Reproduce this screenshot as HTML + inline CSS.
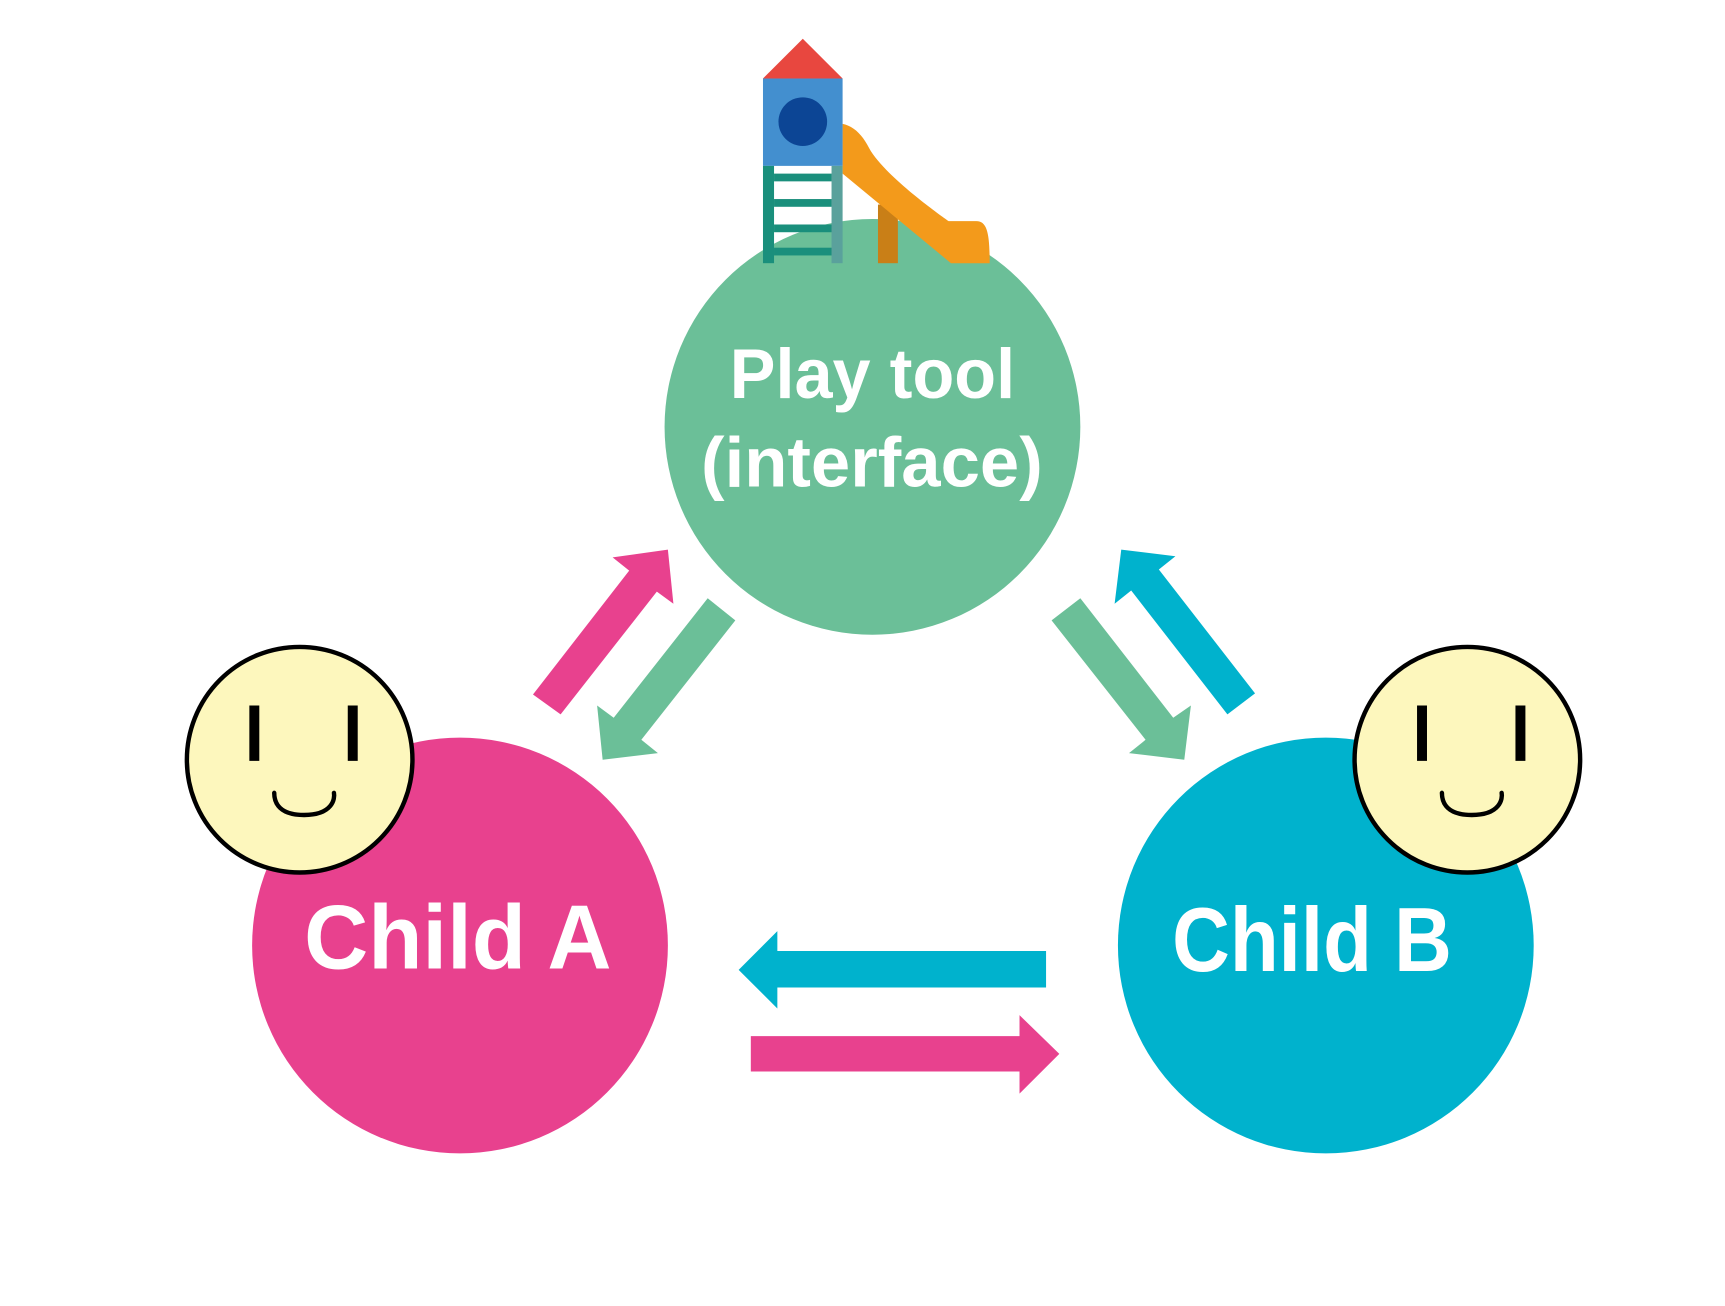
<!DOCTYPE html>
<html><head><style>html,body{margin:0;padding:0;background:#fff;}svg{display:block}</style></head>
<body>
<svg width="1725" height="1306" viewBox="0 0 1560 1181" preserveAspectRatio="none" xmlns="http://www.w3.org/2000/svg">
<rect width="1560" height="1181" fill="#fff"/>
<circle cx="789" cy="386" r="188" fill="#6bbf98"/>
<circle cx="416" cy="855" r="188" fill="#e8418e"/>
<circle cx="1199" cy="855" r="188" fill="#00b2cd"/>
<!-- playground -->
<rect x="794" y="185" width="18" height="53" fill="#c97f17"/>
<path d="M762,112 C772,114 780,122 786,134 C800,160 858,200 858,200 L883,200 C893,200 895,212 895,238 L860,238 L762,157 Z" fill="#f39a1b"/>
<polygon points="690,71 726,35 762,71" fill="#e8473f"/>
<rect x="690" y="71" width="72" height="79" fill="#438fcf"/>
<circle cx="726" cy="110" r="22" fill="#0c4595"/>
<rect x="690" y="150" width="10" height="88" fill="#1a8f7c"/>
<rect x="752" y="150" width="10" height="88" fill="#5aa19c"/>
<rect x="700" y="157" width="52" height="7" fill="#1a8f7c"/>
<rect x="700" y="180" width="52" height="7" fill="#1a8f7c"/>
<rect x="700" y="203" width="52" height="7" fill="#1a8f7c"/>
<rect x="700" y="224" width="52" height="7" fill="#1a8f7c"/>
<!-- text -->
<g font-family="Liberation Sans, sans-serif" font-weight="bold" fill="#fff">
<text x="660" y="360" font-size="64" textLength="258" lengthAdjust="spacingAndGlyphs">Play tool</text>
<text x="634" y="440" font-size="64" textLength="309" lengthAdjust="spacingAndGlyphs">(interface)</text>
<text x="275" y="876" font-size="82" textLength="278" lengthAdjust="spacingAndGlyphs">Child A</text>
<text x="1060" y="878" font-size="82" textLength="253" lengthAdjust="spacingAndGlyphs">Child B</text>
</g>
<!-- arrows -->
<polygon points="482,628 569,516 554,504 604,497 609,546 594,535 507,646" fill="#e8418e"/>
<polygon points="665,561 580,669 595,681 545,687 540,638 555,649 640,541" fill="#6bbf98"/>
<polygon points="1135,627 1048,515 1063,503 1014,497 1008,546 1023,534 1110,646" fill="#00b2cd"/>
<polygon points="951,561 1036,669 1021,681 1071,687 1077,638 1061,649 977,541" fill="#6bbf98"/>
<polygon points="946,860 703,860 703,842 668,877 703,912 703,893 946,893" fill="#00b2cd"/>
<polygon points="679,937 922,937 922,918 958,953 922,989 922,969 679,969" fill="#e8418e"/>
<!-- faces -->
<g stroke="#000">
<circle cx="271" cy="687" r="102" fill="#fdf7bd" stroke-width="4"/>
<line x1="230" y1="638" x2="230" y2="688" stroke-width="9"/>
<line x1="319" y1="638" x2="319" y2="688" stroke-width="9"/>
<path d="M248,717 C248,722 249,737 275,737 C301,737 303,722 302,717" fill="none" stroke-width="4" stroke-linecap="round"/>
<circle cx="1327" cy="687" r="102" fill="#fdf7bd" stroke-width="4"/>
<line x1="1286" y1="638" x2="1286" y2="688" stroke-width="9"/>
<line x1="1375" y1="638" x2="1375" y2="688" stroke-width="9"/>
<path d="M1304,717 C1304,722 1305,737 1331,737 C1357,737 1359,722 1358,717" fill="none" stroke-width="4" stroke-linecap="round"/>
</g>
</svg>
</body></html>
